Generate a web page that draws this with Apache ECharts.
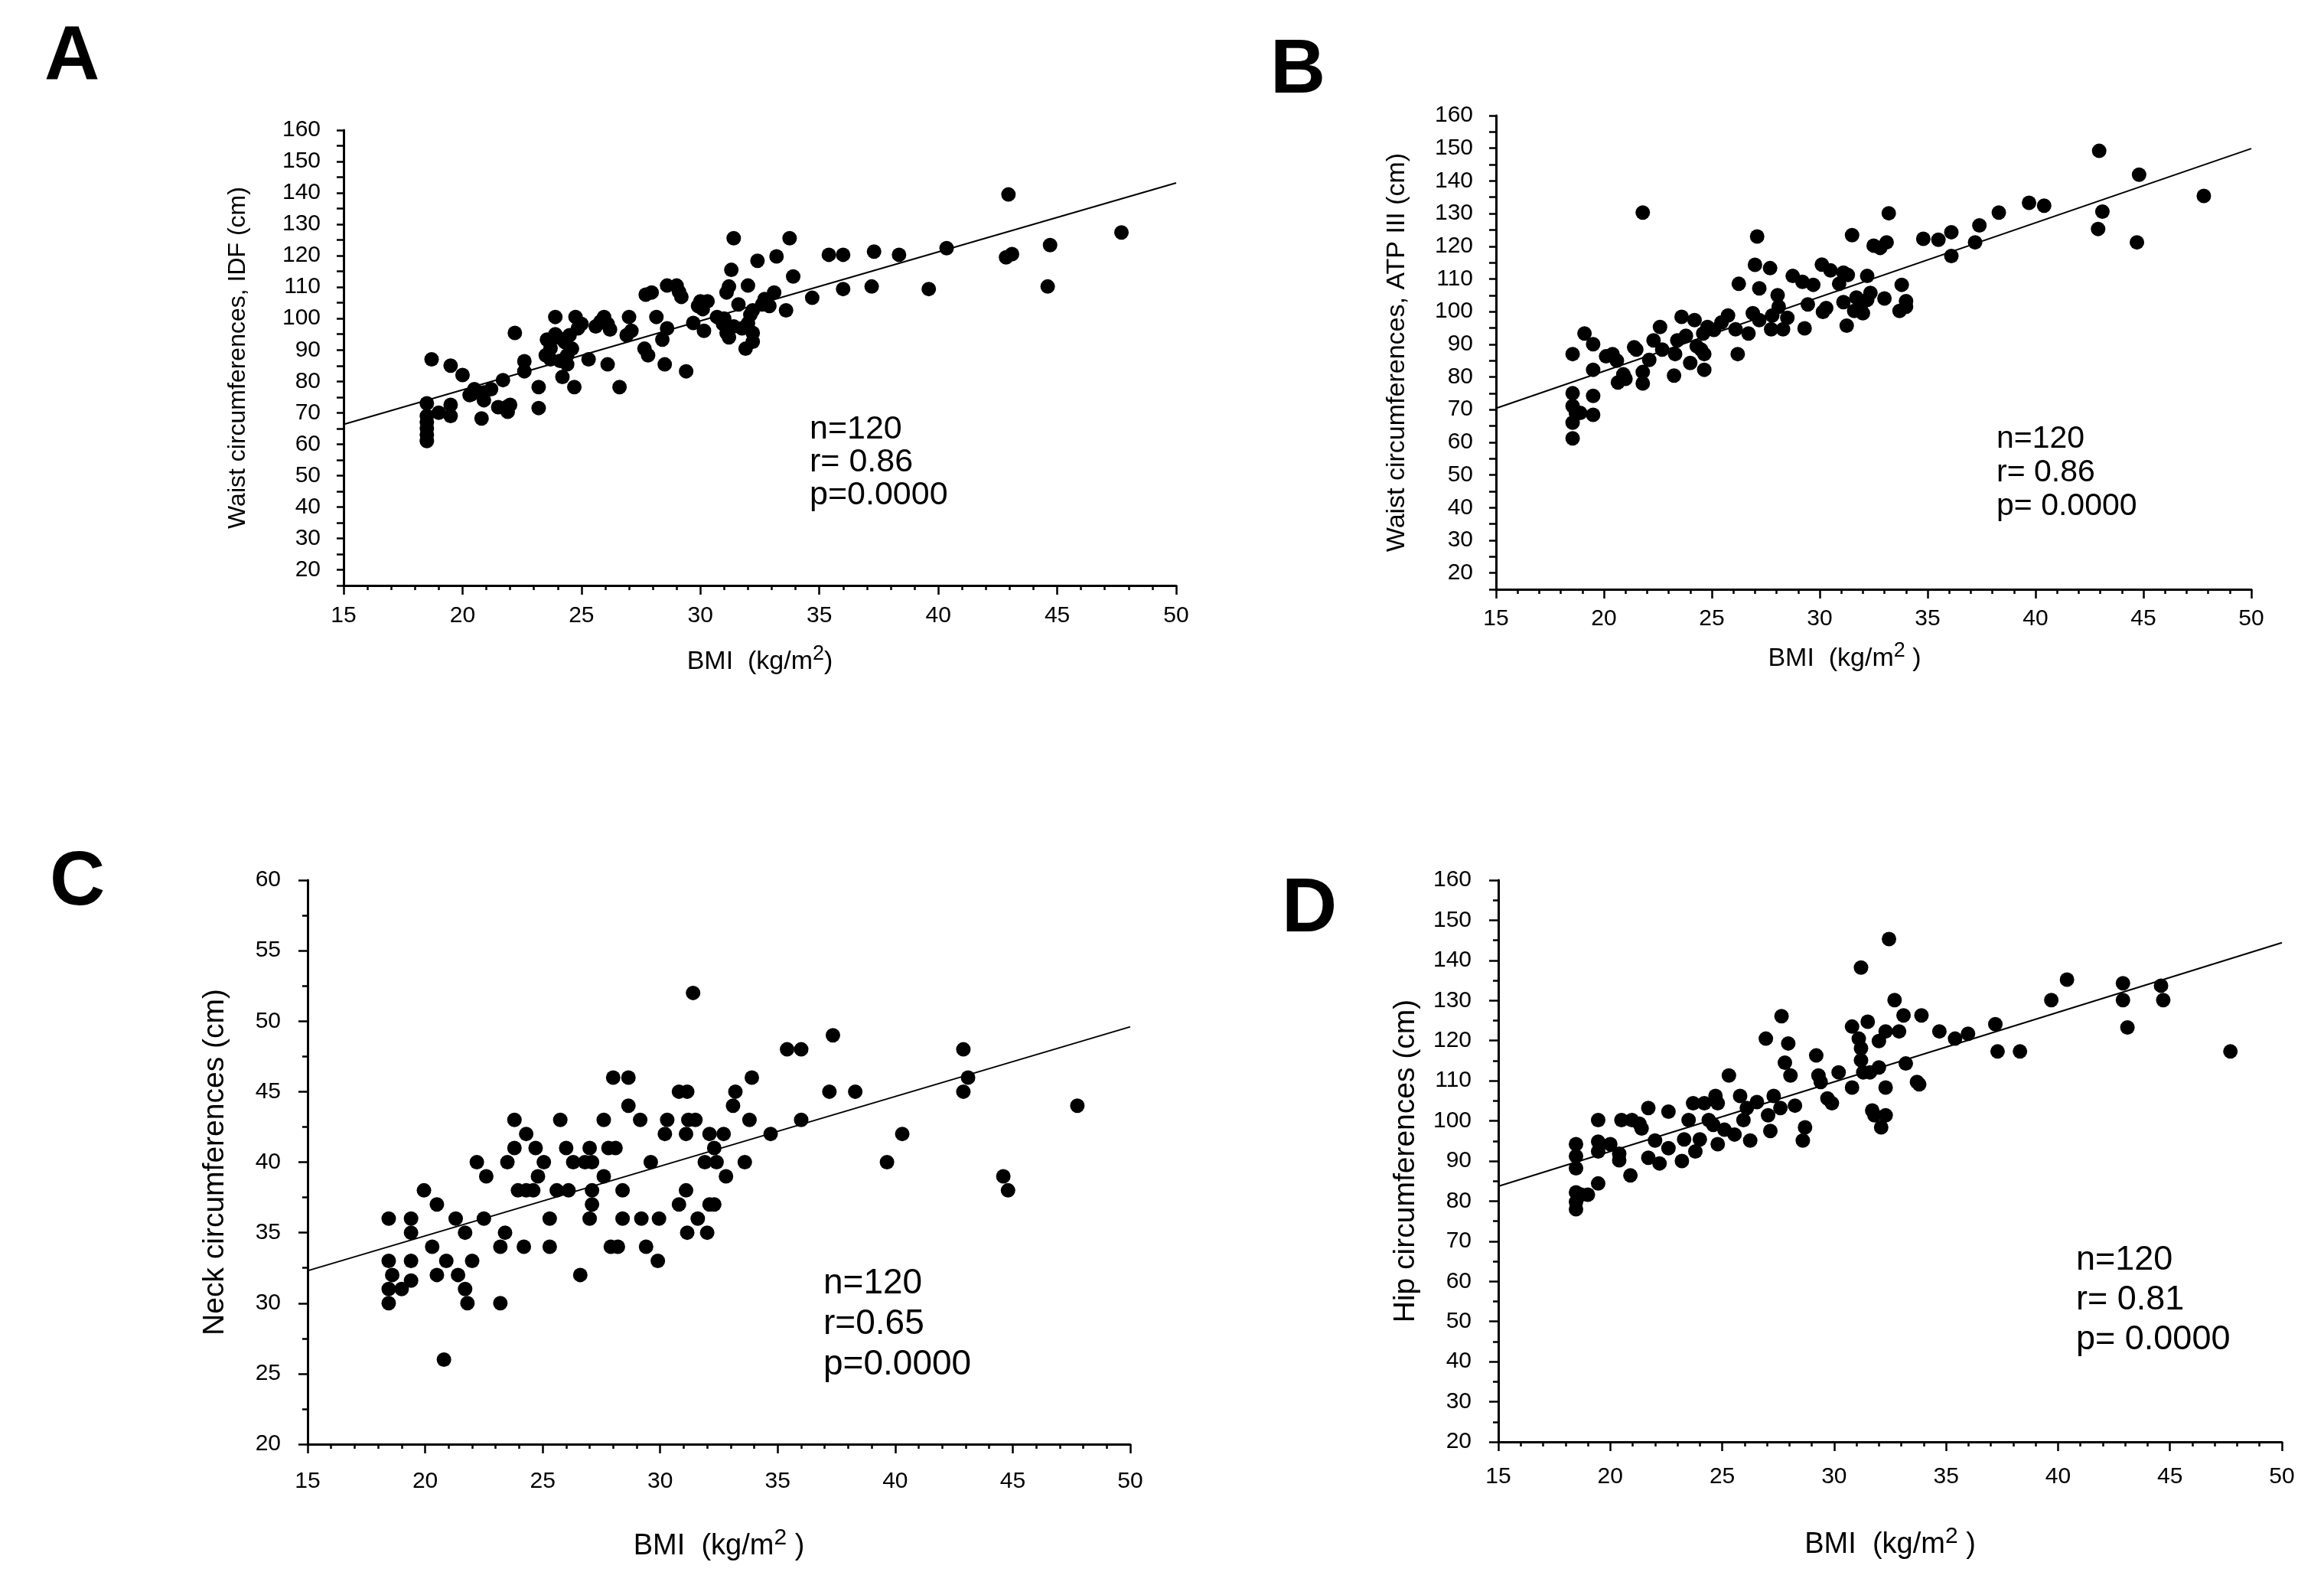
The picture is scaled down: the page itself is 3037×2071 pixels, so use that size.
<!DOCTYPE html>
<html>
<head>
<meta charset="utf-8">
<title>BMI vs circumferences</title>
<script src="https://cdn.jsdelivr.net/npm/echarts/dist/echarts.min.js"></script>
<style>
  html, body { margin: 0; padding: 0; background: #fff; }
  #main { width: 3037px; height: 2071px; }
</style>
</head>
<body>
<div id="main"></div>
<script>
// ---- data ----
// panel A: waist circumference (IDF) vs BMI
var aBmi = [18.5,18.5,18.5,18.5,18.5,18.5,18.7,19.5,20.0,19.0,19.5,19.5,20.3,20.5,20.9,20.8,21.2,21.7,21.5,21.85,21.9,22.2,22.6,22.6,23.2,23.2,23.5,23.55,23.9,23.7,24.0,24.2,24.4,24.4,24.5,24.6,24.7,24.75,24.85,25.0,25.3,25.8,25.95,26.1,26.1,26.6,26.9,27.0,27.1,27.7,27.95,27.65,27.8,28.15,28.4,28.5,28.6,29.0,29.2,28.6,29.4,29.7,29.9,30.0,30.3,30.15,30.7,30.95,31.1,31.2,31.3,31.2,31.1,31.4,31.6,31.75,31.9,32.0,32.1,32.2,32.2,32.2,32.4,32.7,32.9,33.1,33.2,33.6,33.75,33.9,34.7,35.4,36.0,36.0,37.2,37.3,38.35,39.6,40.35,42.95,42.85,43.1,44.6,44.7,47.7,31.4,31.0,32.0,25.6,26.2,23.9,24.3,24.1,23.7,20.4,20.9,22.0,30.1,29.1,32.6];
var aWaist = [73,67,65,63,61,69,87,85,82,70,72.5,69,75.6,77.5,74,68.2,77.5,80.4,71.8,71.8,70.3,95.4,86.4,83.2,78.2,71.5,88.3,93.3,100.5,87,94,81.4,88.3,85.4,94.7,90.4,78.2,100.5,96.9,98.3,87,99,100.5,98.3,85.4,78.2,94.7,100.5,96.1,107.6,108.3,90.4,88.3,100.5,93.3,85.4,110.5,110.5,106.9,96.9,83.2,98.6,104,105.5,105.5,96.1,100.5,98.3,95.4,94,115.5,110.2,108.3,125.6,104.5,96.9,90.4,110.5,101.2,102.6,95.4,92.6,118.4,106.2,104,108.3,119.8,102.6,125.6,113.4,106.6,120.3,120.3,109.4,110.2,121.3,120.3,109.4,122.4,139.5,119.5,120.5,110.2,123.4,127.4,97.5,100,98.5,97.5,96.5,95,92.5,86.5,90.5,76,76.5,72.5,103,108.5,104.5];
var aFit = [66.3, 143.2];

// panel B: waist circumference (ATP III) vs BMI
var bBmi = [18.55,18.55,18.55,18.7,18.55,18.55,18.9,19.1,19.5,19.5,19.5,19.5,20.1,20.4,20.6,20.65,20.9,21.0,21.4,21.5,21.8,21.8,21.8,22.1,22.3,22.6,22.7,23.25,23.3,23.4,23.6,23.8,24.0,24.2,24.3,24.5,24.65,24.65,24.6,24.8,25.1,25.45,25.75,26.1,26.2,26.25,26.7,26.9,27.0,27.1,27.2,27.2,27.7,27.75,27.8,28.05,28.1,28.3,28.5,28.75,29.2,29.3,29.45,29.7,30.1,30.15,30.3,30.5,30.9,31.1,31.25,31.3,31.1,31.5,31.6,31.7,31.9,32.2,32.2,32.35,32.0,32.5,32.8,33.0,33.1,33.2,33.7,33.8,34.0,34.0,34.8,35.5,36.1,36.1,37.2,37.4,38.3,39.7,40.4,42.95,42.9,43.1,44.8,44.7,47.8];
var bWaist = [87,75,71.1,69,66,61.2,69,93.3,90,82.2,74.2,68.4,86.3,87,85,78.3,80.8,79.4,89.1,88.4,81.5,78,130.3,85.2,91.2,95.3,88.4,80.4,87,91.2,98.4,92.6,84.3,97.4,89.4,88.4,82.2,87,93.3,95.3,94.4,96.7,98.8,94.6,87,108.5,93.3,99.5,114.3,123,107.1,97.4,113.3,94.6,98.8,105,101.5,94.6,98.1,110.9,109.1,94.9,102.2,108.2,114.4,99.9,101.1,112.6,108.5,111.9,95.7,111.2,102.9,123.4,100.2,104.3,101.5,110.9,103.6,105.7,99.5,120.2,119.5,104,121.2,130.1,100.2,108.2,103.2,101.5,122.3,122,117,124.3,121.2,126.4,130.3,133.3,132.4,149.2,125.3,130.6,141.9,121.2,135.4];
var bFit = [70.4, 149.9];

// panel C: neck circumference vs BMI
var cBmi = [18.45,18.45,18.45,18.45,18.6,19.0,19.4,19.4,19.4,19.4,19.95,20.3,20.5,20.5,20.8,20.9,21.3,21.4,21.7,21.8,21.7,22.0,22.2,22.5,22.6,23.2,23.2,23.4,23.5,23.8,23.8,23.95,24.2,24.3,24.3,24.6,24.7,24.8,25.05,25.3,25.3,25.6,25.75,26.0,26.1,26.3,26.6,26.8,27.0,27.0,27.1,27.1,27.1,27.6,27.6,27.8,27.9,28.0,28.1,28.2,28.4,28.4,28.65,28.65,29.15,29.2,29.4,29.6,29.9,29.95,30.2,30.3,30.8,30.8,31.1,31.1,31.15,31.2,31.15,31.4,31.5,31.6,31.9,32.0,32.1,32.1,32.3,32.3,32.4,32.7,32.8,33.1,33.2,33.6,33.8,33.9,34.7,35.4,36.0,36.0,37.2,37.35,38.3,39.65,40.3,42.9,42.9,43.1,44.6,44.8,47.75];
var cNeck = [36,33,31,30,32,31,36,35,33,31.6,38,34,37,32,26,33,36,32,31,30,35,33,40,36,39,34,30,35,40,41,43,38,34,38,42,38,41,39,40,36,34,38,43,41,38,40,32,40,36,41,37,38,40,43,39,41,34,46,41,34,38,36,46,44,43,36,34,40,33,36,42,43,45,37,42,38,45,43,35,52,43,36,40,35,42,37,37,41,40,42,39,44,45,40,43,46,42,48,48,43,45,49,45,40,42,48,45,46,39,38,44];
var cFit = [32.3, 49.6];

// panel D: hip circumference vs BMI
var dBmi = [18.47,18.47,18.47,18.47,18.47,18.47,18.7,19.0,19.46,19.46,19.46,19.46,20.0,20.4,20.4,20.5,20.9,20.97,21.3,21.4,21.7,21.7,22.0,22.2,22.6,22.6,23.2,23.3,23.5,23.7,23.8,24.0,24.2,24.4,24.6,24.7,24.8,24.8,25.1,25.3,25.55,25.8,25.95,26.25,26.1,26.55,26.95,27.05,27.15,27.3,27.65,27.6,27.8,27.95,28.05,28.25,28.6,28.7,29.2,29.3,29.4,29.7,29.9,30.2,30.8,30.8,31.1,31.2,31.2,31.2,31.3,31.5,31.6,31.7,31.8,32.0,32.0,32.1,32.3,32.3,32.3,32.45,32.7,32.9,33.1,33.2,33.7,33.8,33.9,34.7,35.4,35.98,37.2,37.3,38.3,39.7,40.4,42.9,42.9,43.1,44.6,44.7,47.7];
var dHip = [94.2,91.2,88.2,82.2,79.8,78,81.6,81.6,100.2,94.8,92.4,84.4,94.2,91.8,90.2,100.2,86.4,100.2,99.3,98.1,103.2,90.8,95.1,89.4,102.3,93.2,90,95.4,100.2,104.4,92.4,95.4,104.4,100.2,99,106.2,104.4,94.2,97.8,111.3,96.6,106.2,100.2,95.1,103.2,104.7,120.5,101.4,97.5,106.2,126.1,103.2,114.5,119.3,111.3,103.8,95.1,98.4,116.3,111.3,109.7,105.6,104.4,112.1,123.5,108.3,120.5,118.1,115.1,138.2,112.1,124.7,112.1,102.6,101.4,119.9,113.3,98.4,108.3,122.3,101.4,145.3,130.1,122.3,126.3,114.3,109.7,109.1,126.3,122.3,120.5,121.7,124.1,117.3,117.3,130.1,135.2,134.3,130.1,123.3,133.7,130.1,117.3];
var dFit = [83.7, 144.4];

var panelLetters = ['A', 'B', 'C', 'D'];
var yTitles = ['Waist circumferences, IDF (cm)', 'Waist circumferences, ATP III (cm)',
               'Neck circumferences (cm)', 'Hip circumferences (cm)'];
var statLines = [
  ['n=120', 'r= 0.86', 'p=0.0000'],
  ['n=120', 'r= 0.86', 'p= 0.0000'],
  ['n=120', 'r=0.65', 'p=0.0000'],
  ['n=120', 'r= 0.81', 'p= 0.0000']
];
// rich text: t = normal, s = superscript
var xTitles = ['{t|BMI  (kg/m}{s|2}{t|)}', '{t|BMI  (kg/m}{s|2}{t| )}',
               '{t|BMI  (kg/m}{s|2}{t| )}', '{t|BMI  (kg/m}{s|2}{t| )}'];

var FONT = '"Liberation Sans", Arial, sans-serif';

function zip(xs, ys) {
  return xs.map(function (x, i) { return [x, ys[i]]; });
}

var myChart = echarts.init(document.getElementById('main'), null, {renderer: 'canvas'});

// grid boxes in page pixels
var grids = [
  {left: 449, top: 170, width: 1088, height: 595},
  {left: 1955, top: 151, width: 987, height: 619},
  {left: 402, top: 1150, width: 1075, height: 737},
  {left: 1958, top: 1150, width: 1024, height: 734}
];

// per panel: label margins, name gaps, font sizes
var looks = [
  {xm: 25, ym: 30, xGap: 76, yGap: 122, xFont: 34, yFont: 32, statFont: 43, statLh: 43, xPad: 0},
  {xm: 24, ym: 30, xGap: 67, yGap: 112, xFont: 34, yFont: 34, statFont: 41, statLh: 44, xPad: 76},
  {xm: 34, ym: 35, xGap: 108, yGap: 101, xFont: 38, yFont: 39, statFont: 46, statLh: 53, xPad: 0},
  {xm: 31, ym: 35, xGap: 109, yGap: 101, xFont: 38, yFont: 39, statFont: 45, statLh: 52, xPad: 0}
];

var xAxes = looks.map(function (lk, i) {
  return {
    type: 'value', gridIndex: i, min: 15, max: 50, interval: 5,
    axisLine: {show: true, onZero: false, lineStyle: {color: '#000', width: 3}},
    axisTick: {show: true, length: 12, lineStyle: {color: '#000', width: 2.5}},
    minorTick: {show: true, splitNumber: 5, length: 6, lineStyle: {color: '#000', width: 2.5}},
    splitLine: {show: false},
    minorSplitLine: {show: false},
    axisLabel: {color: '#000', fontSize: 30, fontFamily: FONT, margin: lk.xm},
    name: xTitles[i], nameLocation: 'middle', nameGap: lk.xGap,
    nameTextStyle: {
      padding: [0, lk.xPad, 0, 0],
      rich: {
        t: {fontSize: lk.xFont, lineHeight: lk.xFont + 14, fontFamily: FONT, color: '#000'},
        s: {fontSize: Math.round(lk.xFont * 0.8), lineHeight: Math.round(lk.xFont * 0.8),
            verticalAlign: 'top', fontFamily: FONT, color: '#000'}
      }
    }
  };
});

// y scales: A and B start at 15 with a tick every 5, labels every 10
var yScales = [
  {min: 15, max: 160, interval: 5, minor: false},
  {min: 15, max: 160, interval: 5, minor: false},
  {min: 20, max: 60, interval: 5, minor: true},
  {min: 20, max: 160, interval: 10, minor: true}
];

var yAxes = looks.map(function (lk, i) {
  var sc = yScales[i];
  return {
    type: 'value', gridIndex: i, min: sc.min, max: sc.max, interval: sc.interval,
    axisLine: {show: true, onZero: false, lineStyle: {color: '#000', width: 3}},
    axisTick: {show: true, length: sc.minor ? 12 : 9, lineStyle: {color: '#000', width: 2.5}},
    minorTick: {show: sc.minor, splitNumber: 2, length: 7, lineStyle: {color: '#000', width: 2.5}},
    splitLine: {show: false},
    minorSplitLine: {show: false},
    axisLabel: {
      color: '#000', fontSize: 30, fontFamily: FONT, margin: lk.ym,
      formatter: function (v) {
        if (sc.minor) return String(v);
        return v % 10 === 0 ? String(v) : '';
      }
    },
    name: yTitles[i], nameLocation: 'middle', nameRotate: 90, nameGap: lk.yGap,
    nameTextStyle: {fontSize: lk.yFont, fontFamily: FONT, color: '#000'}
  };
});

var points = [zip(aBmi, aWaist), zip(bBmi, bWaist), zip(cBmi, cNeck), zip(dBmi, dHip)];
var fits = [aFit, bFit, cFit, dFit];

var series = [];
points.forEach(function (p, i) {
  series.push({
    type: 'line', xAxisIndex: i, yAxisIndex: i, z: 1,
    data: [[15, fits[i][0]], [50, fits[i][1]]],
    showSymbol: false, silent: true,
    lineStyle: {color: '#000', width: 2}
  });
  series.push({
    type: 'scatter', xAxisIndex: i, yAxisIndex: i, z: 2,
    symbol: 'circle', symbolSize: 19,
    itemStyle: {color: '#000', opacity: 1},
    data: p
  });
});

// panel letters and n / r / p boxes
var letterPos = [[94, 76], [1696, 93], [101, 1154], [1711, 1189]];
var statPos = [[1058, 604], [2609, 618], [1076, 1730], [2713, 1699]];
var graphic = [];
panelLetters.forEach(function (L, i) {
  graphic.push({
    type: 'text', x: letterPos[i][0], y: letterPos[i][1],
    style: {text: L, fontSize: 100, fontWeight: 'bold', fontFamily: FONT, fill: '#000',
            align: 'center', verticalAlign: 'middle', textAlign: 'center', textVerticalAlign: 'middle'}
  });
  graphic.push({
    type: 'text', x: statPos[i][0], y: statPos[i][1],
    style: {text: statLines[i].join('\n'), fontSize: looks[i].statFont, lineHeight: looks[i].statLh,
            fontFamily: FONT, fill: '#000',
            align: 'left', verticalAlign: 'middle', textAlign: 'left', textVerticalAlign: 'middle'}
  });
});

var option = {
  backgroundColor: '#fff',
  animation: false,
  grid: grids,
  xAxis: xAxes,
  yAxis: yAxes,
  series: series,
  graphic: graphic
};

myChart.setOption(option);
</script>
</body>
</html>
